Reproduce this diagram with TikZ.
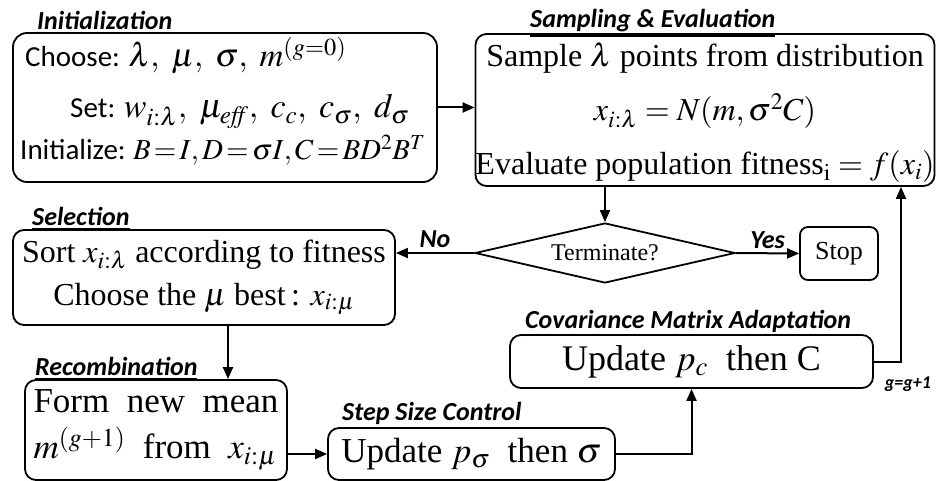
\documentclass[tikz,border=0pt]{standalone}
\usepackage{mathptmx}
\usepackage{fontspec}
\setmainfont{Liberation Serif}
\newfontfamily\carlito{Carlito}
\usetikzlibrary{arrows.meta,shapes.geometric}
\newcommand\kw[1]{{\carlito\fontsize{29}{32}\selectfont #1}}

\begin{document}
\begin{tikzpicture}[x=1pt,y=-1pt,
	box/.style={draw,line width=1.8pt,rounded corners=11pt,inner sep=0pt,align=center},
	lbl/.style={anchor=base west,inner sep=0pt,font=\carlito\bfseries\itshape\fontsize{26}{28}\selectfont},
	initln/.style={anchor=base west,inner sep=0pt},
	arr/.style={line width=2pt,-{Triangle[length=12pt,width=10pt]}}]
			\useasboundingbox (0,0) rectangle (936,481);
			% boxes
			\node[box,rounded corners=14pt,minimum width=424pt,minimum height=149pt] (init) at (225,107.5){};
			\node[box,minimum width=456pt,minimum height=152pt,font=\fontsize{32}{54}\selectfont] (samp) at (705,110)
			{\rule{0pt}{30pt}Sample $\lambda$ points from distribution\\ $x_{i:\lambda}=N(m,\sigma^2C)$\\ Evaluate population fitness$_{\mathrm{i}}=f(x_i)$};
			\node[draw,diamond,aspect=4.3,line width=1.8pt,minimum width=260pt,minimum height=60pt,inner sep=0pt,font=\fontsize{24}{26}\selectfont] (term) at (605,253){Terminate?};
			\node[box,rounded corners=8pt,minimum width=78pt,minimum height=53pt,font=\fontsize{26}{28}\selectfont] (stop) at (839,253.5){Stop};
			\node[box,minimum width=382pt,minimum height=95pt,font=\fontsize{32}{43}\selectfont] (sel) at (204,277.5)
			{Sort $x_{i:\lambda}$ according to fitness\\ Choose the $\mu$ best\,: $x_{i:\mu}$};
			\node[box,align=left,minimum width=262pt,minimum height=100pt,font=\fontsize{35}{46}\selectfont] (recomb) at (156,430)
			{Form\ \ new\ \ mean\\ $m^{(g+1)}$\ \ from\ \ $x_{i:\mu}$};
			\node[box,minimum width=287pt,minimum height=52pt,font=\fontsize{35}{38}\selectfont] (step) at (471.5,454)
			{Update $p_\sigma$\ \ then $\sigma$};
			\node[box,minimum width=363pt,minimum height=53pt,font=\fontsize{36}{40}\selectfont] (cma) at (691.5,361.5)
			{Update $p_c$\ \ then C};
			% initialization lines
			\node[initln,font=\fontsize{33}{36}\selectfont] (choose) at (25,67){\kw{Choose:}\ $\lambda,\ \mu,\ \sigma,\ m^{(g=0)}$};
			\node[initln,font=\fontsize{34}{38}\selectfont] (setln) at (70,118){\kw{Set:}\ $w_{i:\lambda},\ \mu_{\mathit{eff}},\ c_c,\ c_\sigma,\ d_\sigma$};
			\node[initln,font=\fontsize{29}{32}\selectfont] (initln) at (20,160){\kw{Initialize:}\ $\thickmuskip=2mu B=I,D=\sigma I,C=BD^2B^T$};
			% stage labels
			\node[lbl] (initlbl) at (37,30){\underline{Initialization}};
			\node[lbl] (samplbl) at (530,28){\underline{Sampling \& Evaluation}};
			\node[lbl] (sellbl) at (32,225){\underline{Selection}};
			\node[lbl] (recomblbl) at (35,375){\underline{Recombination}};
			\node[lbl] (steplbl) at (342,420){\underline{Step Size Control}};
			\node[lbl] (cmalbl) at (525,328){\underline{Covariance Matrix Adaptation}};
			% connectors
			\draw[arr] (init.east) -- (init.east -| samp.west);
			\draw[arr] (term.north |- samp.south) -- (term.north);
			\draw[arr] (term.west) -- node[lbl,anchor=south,yshift=4pt]{No} (term.west -| sel.east);
			\draw[arr] (term.east) -- node[lbl,anchor=south,yshift=4pt]{Yes} (stop.west);
			\draw[arr] ([xshift=24pt]sel.south) -- ([xshift=24pt]sel.south |- recomb.north);
			\draw[arr] (step.west -| recomb.east) -- (step.west);
			\draw[arr] (step.east) -| (cma.south);
			\coordinate (back) at (901,361.5);
			\draw[arr] (cma.east) -- (back) -- (back |- samp.south);
			\node[font=\carlito\bfseries\itshape\fontsize{18}{20}\selectfont,inner sep=0pt] (incr) at (908,384){g=g+1};
		\end{tikzpicture}
\end{document}
